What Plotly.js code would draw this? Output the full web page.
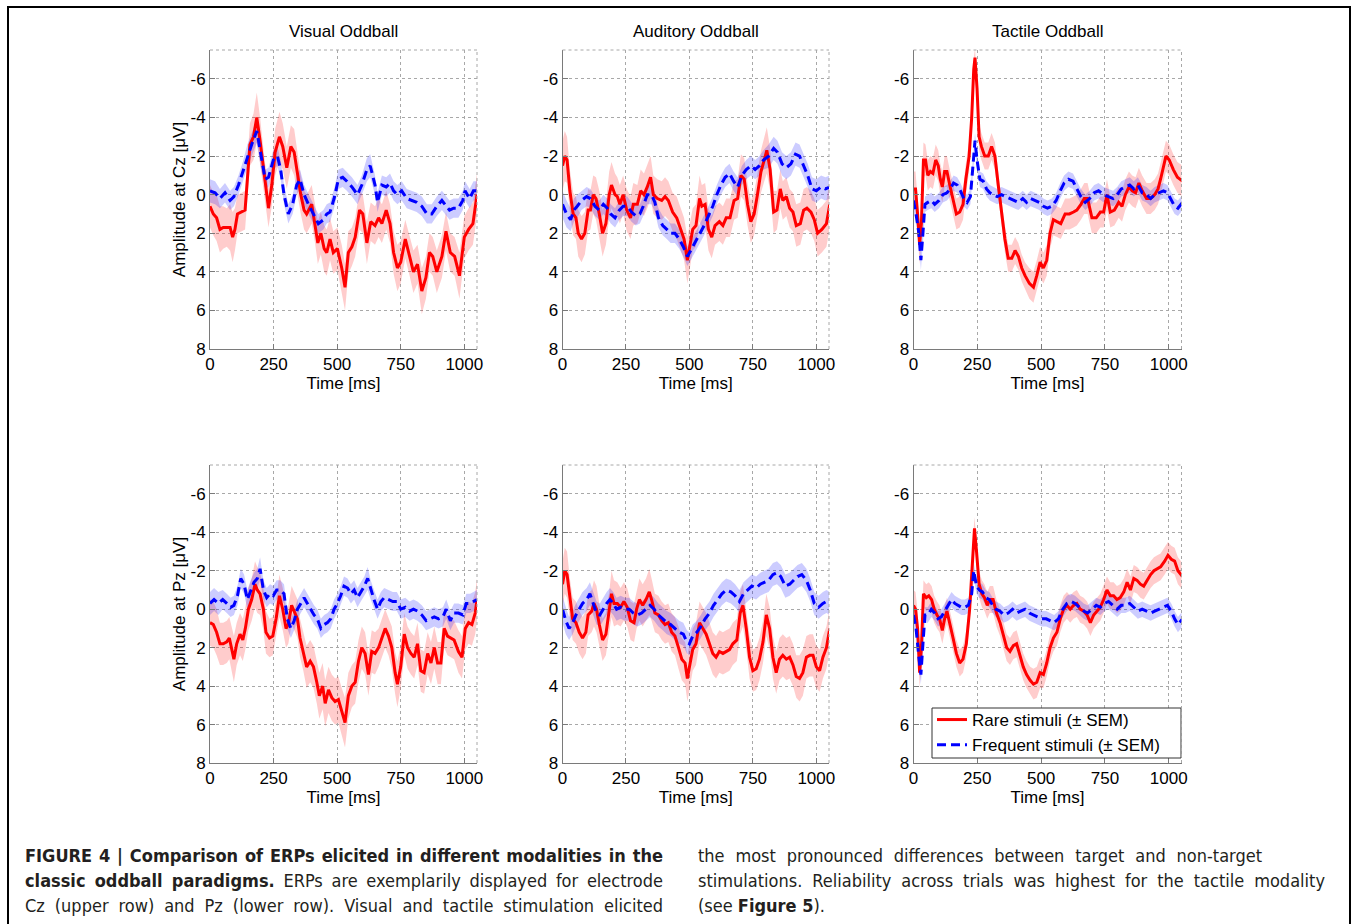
<!DOCTYPE html>
<html><head><meta charset="utf-8">
<script src="https://cdn.plot.ly/plotly-3.0.1.min.js"></script>
<style>
html,body{margin:0;padding:0;background:#fff;width:1355px;height:924px;overflow:hidden;}
#frame{position:absolute;left:7px;top:6px;width:1344px;height:1000px;border:2px solid #000;box-sizing:border-box;}
#chart{position:absolute;left:0;top:0;width:1355px;height:924px;}
.cap{position:absolute;top:843px;font-family:"Liberation Sans Narrow","DejaVu Sans Condensed","Liberation Sans",sans-serif;font-size:18px;line-height:25px;color:#231f20;}
.cap div{text-align:justify;text-align-last:justify;white-space:nowrap;}
.cap div.last{text-align-last:left;}
</style></head>
<body>
<div id="frame"></div>
<div id="chart"></div>
<div class="cap" style="left:25px;width:638px;">
<div><b>FIGURE 4 | Comparison of ERPs elicited in different modalities in the</b></div>
<div><b>classic oddball paradigms.</b> ERPs are exemplarily displayed for electrode</div>
<div>Cz (upper row) and Pz (lower row). Visual and tactile stimulation elicited</div>
</div>
<div class="cap" style="left:698px;width:627px;">
<div style="width:564px">the most pronounced differences between target and non-target</div>
<div>stimulations. Reliability across trials was highest for the tactile modality</div>
<div class="last">(see <b>Figure 5</b>).</div>
</div>
<script>
// ---------- titles / labels ----------
const panelTitles = ["Visual Oddball", "Auditory Oddball", "Tactile Oddball"];
const rowLabels = ["Amplitude at Cz [μV]", "Amplitude at Pz [μV]"];
const xTicks = [0, 250, 500, 750, 1000];
const yTicks = [-6, -4, -2, 0, 2, 4, 6, 8];
const yTickText = ["-6", "-4", "-2", "0", "2", "4", "6", "8"];
const seriesNames = ["Rare stimuli (± SEM)", "Frequent stimuli (± SEM)"];

// ---------- Visual, Cz ----------
const tVcR = [0,13,26,39,52,66,79,89,98,108,125,138,147,157,171,184,197,213,230,243,256,273,286,302,318,331,344,357,370,380,400,413,424,436,449,459,472,485,501,518,531,544,558,571,588,601,617,632,649,663,676,693,708,722,737,750,768,785,800,816,833,849,863,876,892,912,928,945,962,981,1000,1017,1034,1050];
const vVcR = [0.6,1.0,1.2,1.8,1.7,1.7,1.7,2.2,1.8,1.0,0.9,0.8,-0.8,-2.6,-3.0,-4.0,-2.8,-1.0,0.7,-0.5,-2.2,-3.0,-2.5,-1.4,-2.5,-2.2,-1.0,0.0,0.8,1.0,0.5,1.5,2.5,2.0,2.8,3.0,2.3,3.0,2.8,3.8,4.8,3.0,2.7,2.2,0.8,1.0,2.5,1.4,1.6,1.2,1.5,0.8,1.5,3.0,3.8,3.5,2.3,3.2,4.0,3.6,5.0,4.3,3.0,3.2,4.0,3.2,1.9,3.0,3.2,4.2,2.2,1.8,1.5,0.0];
const sVcR = [1.1,1.1,1.2,1.2,1.1,1.0,1.2,1.3,1.1,1.0,1.0,1.0,1.0,1.1,1.2,1.3,1.2,1.0,1.0,1.1,1.2,1.3,1.2,1.1,1.1,1.2,1.1,1.0,1.0,1.0,1.0,1.0,1.1,1.1,1.2,1.2,1.1,1.1,1.1,1.2,1.2,1.1,1.0,1.0,1.0,1.0,1.1,1.0,1.0,1.0,1.0,1.0,1.0,1.1,1.2,1.1,1.0,1.0,1.1,1.0,1.2,1.1,1.0,1.0,1.1,1.1,1.0,1.0,1.0,1.2,1.1,1.1,1.1,1.1];
const tVcF = [0,20,39,59,79,94,112,129,147,164,184,200,217,230,249,265,278,291,308,325,341,354,370,387,407,426,446,459,472,488,505,522,538,558,580,597,617,630,649,659,676,693,708,722,737,754,774,794,813,833,853,872,892,912,925,942,958,977,994,1003,1021,1036,1050];
const vVcF = [-0.2,-0.1,0.2,-0.1,0.3,0.1,-0.5,-1.2,-2.0,-2.6,-3.3,-2.0,-0.8,-0.9,-1.8,-2.0,-1.3,0.0,1.0,0.5,-0.5,-0.8,0.0,0.5,1.0,1.5,1.3,1.0,0.9,0.2,-0.8,-0.9,-0.7,-0.4,0.0,-0.5,-1.3,-1.5,-0.5,0.4,-0.5,-0.4,-0.6,-0.2,0.0,-0.2,0.2,0.3,0.4,0.6,1.0,1.0,0.6,0.3,0.5,0.8,0.7,0.7,0.3,-0.2,0.2,-0.2,-0.2];
const sVcF = [0.6,0.6,0.5,0.5,0.5,0.5,0.5,0.5,0.6,0.6,0.6,0.6,0.5,0.5,0.5,0.5,0.5,0.5,0.5,0.5,0.5,0.5,0.5,0.5,0.5,0.5,0.5,0.5,0.5,0.5,0.5,0.5,0.5,0.5,0.5,0.5,0.6,0.6,0.5,0.5,0.5,0.5,0.5,0.5,0.5,0.5,0.5,0.5,0.5,0.5,0.5,0.5,0.5,0.5,0.5,0.5,0.5,0.5,0.5,0.5,0.5,0.5,0.5];

// ---------- Auditory, Cz ----------
const tAcR = [0,9,18,29,42,53,62,75,88,101,110,121,132,145,158,171,184,193,207,216,226,239,253,268,279,295,308,321,334,347,358,374,391,404,417,434,450,466,479,492,503,513,526,540,549,562,575,588,601,618,632,645,660,676,690,703,716,729,742,755,768,782,795,805,818,832,845,858,868,882,895,908,921,937,950,963,979,992,1005,1022,1040,1053];
const vAcR = [-1.5,-2.0,-1.8,-0.2,1.0,1.2,2.0,2.3,2.0,0.8,0.8,0.0,0.2,1.0,2.0,1.5,0.0,-0.5,0.0,0.1,0.5,0.0,0.8,1.2,0.5,0.5,-0.2,0.0,-0.4,-0.9,0.0,0.2,0.3,0.1,0.3,0.9,1.2,1.8,2.3,3.4,2.5,1.8,1.6,0.2,0.6,0.5,1.8,2.2,1.6,1.4,1.6,1.2,1.2,0.3,0.2,-1.0,-0.8,0.5,1.4,1.0,0.0,-1.2,-1.8,-2.3,-1.3,0.9,0.8,-0.3,0.3,0.1,0.7,0.9,1.6,1.5,0.8,0.7,0.9,1.3,2.0,1.8,1.5,0.5];
const sAcR = [1.3,1.3,1.2,1.1,1.1,1.1,1.2,1.2,1.1,1.1,1.0,1.0,1.1,1.2,1.2,1.1,1.2,1.2,1.1,1.0,1.0,1.0,1.1,1.1,1.1,1.0,1.1,1.1,1.1,1.1,1.0,1.0,1.0,1.0,1.0,1.0,1.1,1.1,1.1,1.2,1.1,1.1,1.1,1.2,1.1,1.1,1.1,1.1,1.0,1.0,1.0,1.0,1.0,1.0,1.0,1.1,1.1,1.1,1.1,1.1,1.1,1.1,1.1,1.2,1.1,1.1,1.0,1.0,1.0,1.0,1.0,1.0,1.1,1.1,1.1,1.1,1.1,1.1,1.2,1.2,1.2,1.2];
const tAcF = [0,16,32,45,58,75,95,110,128,145,161,176,190,207,224,239,255,272,289,305,318,334,351,364,378,395,411,426,443,460,476,492,509,526,542,558,575,592,608,624,641,658,674,690,707,724,742,759,776,792,812,832,847,865,882,900,918,934,950,966,983,1000,1019,1036,1053];
const vAcF = [0.5,1.0,1.3,0.8,0.6,0.3,0.1,0.2,0.6,0.8,0.5,0.7,1.0,1.2,0.8,0.6,0.6,0.9,1.1,1.0,0.6,0.0,0.0,0.4,1.2,1.6,1.8,2.0,2.0,2.3,2.7,3.2,2.8,2.4,2.0,1.6,1.1,0.6,0.0,-0.5,-0.9,-1.1,-0.7,-0.4,-1.0,-1.3,-1.5,-1.3,-1.5,-1.8,-2.0,-2.4,-2.2,-1.6,-1.4,-1.6,-2.1,-2.0,-1.5,-1.0,-0.3,-0.2,-0.4,-0.3,-0.4];
const sAcF = [0.7,0.7,0.6,0.6,0.6,0.5,0.5,0.5,0.5,0.5,0.5,0.5,0.5,0.5,0.5,0.5,0.5,0.5,0.5,0.5,0.5,0.5,0.5,0.5,0.5,0.5,0.5,0.5,0.5,0.5,0.5,0.5,0.5,0.5,0.5,0.5,0.5,0.5,0.5,0.5,0.5,0.5,0.5,0.5,0.5,0.5,0.5,0.5,0.5,0.5,0.6,0.6,0.6,0.6,0.6,0.6,0.6,0.6,0.6,0.6,0.6,0.6,0.6,0.6,0.6];

// ---------- Tactile, Cz ----------
const tTcR = [0,8,16,24,31,39,47,56,66,76,87,97,105,113,122,131,142,155,168,181,194,205,218,228,236,241,249,257,266,279,293,306,319,332,345,358,371,385,398,411,424,437,454,470,483,496,509,522,535,548,562,577,594,611,627,640,656,669,682,699,716,732,745,758,771,787,804,817,830,844,857,870,883,896,913,929,945,958,968,979,989,1002,1018,1034,1054];
const vTcR = [-0.3,-0.3,1.0,2.6,1.5,-1.8,-1.8,-1.0,-1.2,-1.1,-1.8,-1.5,-0.8,-0.4,-1.2,-1.2,-0.5,0.3,1.0,0.9,0.5,-0.8,-2.0,-4.0,-6.5,-7.1,-5.5,-3.0,-2.5,-2.0,-2.0,-2.5,-2.0,-0.5,1.0,2.3,3.3,3.3,2.9,3.2,3.8,4.2,4.6,4.8,4.2,3.5,3.8,3.4,2.0,1.3,1.4,1.5,1.0,1.0,0.9,0.8,0.5,0.2,0.2,1.2,1.2,0.9,0.9,0.0,0.9,0.8,0.4,0.6,0.0,-0.4,-0.2,-0.1,-0.6,-0.2,0.2,0.2,0.0,-0.3,-0.8,-1.5,-2.0,-1.8,-1.3,-0.9,-0.7];
const sTcR = [0.9,0.9,1.0,1.0,1.0,0.9,0.8,0.8,0.8,0.8,0.8,0.8,0.8,0.8,0.8,0.8,0.8,0.8,0.8,0.8,0.8,0.8,0.8,0.7,0.6,0.5,0.6,0.7,0.7,0.7,0.7,0.7,0.7,0.7,0.7,0.7,0.7,0.7,0.7,0.7,0.7,0.7,0.8,0.8,0.8,0.8,0.8,0.8,0.8,0.8,0.8,0.8,0.8,0.8,0.8,0.8,0.8,0.8,0.8,0.8,0.8,0.8,0.8,0.8,0.8,0.8,0.8,0.8,0.8,0.8,0.8,0.8,0.8,0.8,0.8,0.8,0.8,0.8,0.8,0.8,0.8,0.8,0.8,0.8,0.8];
const tTcF = [0,10,21,29,37,45,56,70,83,100,115,131,144,157,171,184,197,210,223,234,241,249,260,273,286,299,312,328,345,362,378,394,411,428,443,459,476,493,509,525,542,559,575,590,607,625,640,656,673,690,708,725,745,764,782,798,814,830,847,863,879,896,913,929,945,962,979,995,1010,1023,1036,1054];
const vTcF = [0.3,1.0,2.0,3.4,2.0,0.5,0.4,0.3,0.5,0.3,0.0,-0.1,-0.3,-0.6,-0.5,-0.2,0.2,0.4,0.1,-1.5,-2.8,-1.8,-0.8,-0.7,-0.3,-0.1,0.0,0.1,0.0,0.1,0.2,0.3,0.4,0.2,0.4,0.2,0.3,0.4,0.6,0.7,0.6,0.3,-0.2,-0.6,-0.8,-0.7,-0.3,0.1,0.4,0.2,-0.1,-0.2,0.0,0.1,0.2,0.0,-0.3,-0.4,-0.5,-0.3,-0.5,-0.1,0.0,0.2,0.0,-0.1,-0.2,-0.1,0.3,0.6,0.7,0.4];
const sTcF = [0.5,0.5,0.5,0.5,0.5,0.4,0.4,0.4,0.4,0.4,0.4,0.4,0.4,0.4,0.4,0.4,0.4,0.4,0.4,0.4,0.4,0.4,0.4,0.4,0.4,0.4,0.4,0.4,0.4,0.4,0.4,0.4,0.4,0.4,0.4,0.4,0.4,0.4,0.4,0.4,0.4,0.4,0.4,0.4,0.4,0.4,0.4,0.4,0.4,0.4,0.4,0.4,0.4,0.4,0.4,0.4,0.4,0.4,0.4,0.4,0.4,0.4,0.4,0.4,0.4,0.4,0.4,0.4,0.4,0.4,0.4,0.4];

// ---------- Visual, Pz ----------
const tVpR = [0,13,26,39,52,66,76,85,94,105,118,129,139,151,164,177,186,197,210,220,234,247,260,273,286,299,308,321,335,344,354,367,380,394,407,420,430,443,453,466,479,492,505,518,531,544,558,571,584,597,610,623,636,649,663,676,689,702,715,728,737,750,764,777,790,803,816,829,842,856,869,882,895,908,921,934,947,960,977,991,1004,1017,1030,1043,1050];
const vVpR = [0.7,0.8,1.2,1.8,1.8,1.7,1.5,2.0,2.6,1.8,1.3,1.6,1.0,0.0,-0.5,-1.3,-1.0,-0.8,0.0,1.2,1.5,1.4,0.5,-0.7,0.0,1.0,0.8,-0.2,0.2,0.5,1.5,2.2,3.0,2.7,3.0,3.8,4.5,4.0,4.9,4.2,4.6,4.8,4.7,5.3,5.9,4.5,4.0,3.8,2.7,2.0,2.3,3.4,2.2,2.3,2.0,1.5,1.0,1.4,2.0,3.3,3.9,3.0,1.3,2.0,2.3,2.5,1.8,3.2,3.3,2.3,2.8,2.0,2.8,2.8,1.0,1.4,1.5,1.6,2.2,2.5,1.0,0.7,0.8,0.2,-0.5];
const sVpR = [1.2,1.2,1.2,1.1,1.1,1.1,1.1,1.2,1.2,1.1,1.1,1.1,1.1,1.1,1.1,1.2,1.2,1.1,1.1,1.1,1.0,1.0,1.0,1.1,1.1,1.0,1.0,1.0,1.0,1.0,1.0,1.0,1.1,1.1,1.1,1.1,1.2,1.2,1.2,1.2,1.2,1.2,1.2,1.2,1.3,1.2,1.1,1.1,1.1,1.1,1.1,1.1,1.1,1.1,1.0,1.0,1.0,1.0,1.1,1.1,1.2,1.1,1.1,1.1,1.1,1.1,1.1,1.1,1.1,1.1,1.1,1.1,1.1,1.1,1.0,1.0,1.0,1.0,1.1,1.1,1.1,1.1,1.1,1.1,1.1];
const tVpF = [0,16,33,50,66,81,94,108,121,134,147,160,173,186,197,210,223,236,249,262,276,291,304,318,331,344,357,370,383,396,409,422,436,449,462,475,488,501,514,527,541,554,567,580,593,607,620,632,645,659,672,685,702,719,735,750,768,785,800,816,833,850,866,882,899,916,929,945,960,977,994,1008,1023,1039,1050];
const vVpF = [-0.3,-0.5,-0.3,-0.5,-0.3,-0.1,-0.2,-0.7,-1.6,-1.3,-0.5,-1.0,-1.4,-1.6,-2.1,-1.0,-0.6,-0.8,-0.7,-1.0,-1.0,-0.8,0.5,1.0,0.6,0.0,-0.3,-0.6,-0.3,0.0,0.3,0.5,1.0,0.8,0.7,0.5,0.0,-0.3,-0.7,-1.2,-1.1,-0.8,-1.0,-0.6,-0.9,-1.2,-1.6,-1.0,-0.5,0.0,-0.4,-0.6,-0.5,-0.4,-0.4,0.0,-0.1,0.1,0.0,0.1,0.3,0.6,0.5,0.4,0.5,0.4,0.0,0.6,0.2,0.2,0.3,-0.3,-0.3,-0.4,-0.5];
const sVpF = [0.6,0.6,0.6,0.5,0.5,0.5,0.5,0.5,0.5,0.5,0.5,0.5,0.5,0.5,0.6,0.5,0.5,0.5,0.5,0.5,0.5,0.5,0.5,0.5,0.5,0.5,0.5,0.5,0.5,0.5,0.5,0.5,0.5,0.5,0.5,0.5,0.5,0.5,0.5,0.5,0.5,0.5,0.5,0.5,0.5,0.5,0.6,0.5,0.5,0.5,0.5,0.5,0.5,0.5,0.5,0.5,0.5,0.5,0.5,0.5,0.5,0.5,0.5,0.5,0.5,0.5,0.5,0.5,0.5,0.5,0.5,0.5,0.5,0.5,0.5];

// ---------- Auditory, Pz ----------
const tApR = [0,9,18,29,40,53,66,79,92,101,115,124,134,145,158,171,184,193,203,216,229,242,255,268,282,292,303,316,329,342,351,364,378,391,404,417,430,443,457,470,483,492,503,513,526,540,553,566,579,592,605,618,632,645,658,671,687,700,711,724,737,750,763,776,790,803,816,829,842,855,868,882,895,908,921,934,947,961,974,987,1000,1013,1026,1040,1053];
const vApR = [-1.3,-2.0,-1.8,-0.5,0.5,0.7,1.2,1.5,1.2,0.3,0.1,-0.3,0.0,0.8,1.6,1.3,0.2,-0.8,-0.3,-0.3,-0.1,-0.4,-0.1,0.6,0.7,0.0,-0.5,-0.2,-0.5,-0.9,-0.5,0.2,0.3,0.6,0.8,0.7,1.2,1.4,2.0,2.6,2.8,3.6,2.8,2.1,1.8,0.7,1.0,1.3,1.8,2.3,2.5,2.2,2.3,2.2,2.1,1.8,1.6,0.2,-0.2,1.0,2.5,3.2,3.1,2.6,1.7,0.3,1.0,2.5,3.3,2.6,2.4,2.6,2.5,2.9,3.5,3.6,3.3,2.5,2.4,2.4,3.0,3.2,2.5,2.0,1.0];
const sApR = [1.2,1.2,1.2,1.1,1.1,1.1,1.1,1.1,1.1,1.1,1.1,1.2,1.2,1.1,1.1,1.1,1.1,1.2,1.2,1.1,1.0,1.0,1.0,1.0,1.0,1.0,1.1,1.1,1.1,1.2,1.1,1.0,1.0,1.0,1.0,1.0,1.0,1.0,1.1,1.1,1.1,1.2,1.2,1.1,1.1,1.1,1.1,1.1,1.1,1.1,1.1,1.1,1.1,1.1,1.1,1.1,1.1,1.1,1.1,1.1,1.1,1.1,1.1,1.1,1.1,1.1,1.1,1.1,1.1,1.1,1.1,1.1,1.1,1.1,1.1,1.2,1.2,1.1,1.1,1.1,1.1,1.1,1.1,1.1,1.1];
const tApF = [0,13,26,40,53,66,79,95,108,121,134,147,161,174,187,200,213,229,246,263,279,295,312,329,345,361,378,395,411,426,443,460,476,490,500,513,529,545,562,579,595,610,628,645,663,680,697,713,729,746,763,779,795,812,829,845,860,878,895,911,926,943,961,976,992,1009,1026,1040,1053];
const vApF = [0.0,0.6,1.0,0.7,0.3,0.0,-0.3,-0.5,-0.8,-0.3,0.2,0.3,0.0,-0.3,-0.5,-0.3,0.0,-0.1,0.0,0.0,0.2,0.3,0.2,0.0,-0.2,0.0,0.3,0.5,0.7,0.8,1.0,1.2,1.3,1.7,1.8,1.4,1.2,0.9,0.5,0.2,-0.2,-0.5,-0.8,-1.0,-0.9,-0.7,-0.4,-0.8,-1.0,-1.2,-1.1,-1.3,-1.4,-1.5,-1.8,-1.9,-1.7,-1.2,-1.3,-1.5,-1.7,-1.8,-1.5,-1.0,-0.3,-0.1,-0.3,-0.4,-0.3];
const sApF = [0.7,0.7,0.6,0.6,0.6,0.6,0.6,0.6,0.6,0.6,0.6,0.6,0.6,0.6,0.6,0.6,0.6,0.6,0.6,0.6,0.6,0.6,0.6,0.6,0.6,0.6,0.6,0.6,0.6,0.6,0.6,0.6,0.6,0.6,0.6,0.6,0.6,0.6,0.6,0.6,0.6,0.6,0.6,0.6,0.6,0.6,0.6,0.6,0.6,0.6,0.6,0.6,0.6,0.6,0.6,0.6,0.6,0.6,0.6,0.6,0.6,0.6,0.6,0.6,0.6,0.6,0.6,0.6,0.6];

// ---------- Tactile, Pz ----------
const tTpR = [0,8,16,24,31,39,50,60,71,81,92,102,113,122,131,142,155,168,181,194,207,220,231,239,247,257,268,278,289,299,312,325,339,352,365,378,391,404,417,430,443,457,470,483,496,509,522,535,548,562,575,588,601,614,627,640,653,667,680,693,706,719,732,745,758,771,784,797,810,824,837,850,863,876,889,902,915,929,942,955,968,984,997,1010,1023,1036,1054];
const vTpR = [-0.2,0.0,1.0,3.3,2.0,-0.8,-0.6,-0.7,-0.5,0.0,0.3,0.5,1.1,0.5,0.1,0.7,1.5,2.3,2.8,2.6,1.8,0.0,-2.5,-4.2,-3.0,-1.3,-0.8,-0.6,-0.2,-0.5,-0.5,0.2,0.7,1.3,2.0,2.2,1.9,1.8,2.4,3.0,3.4,3.7,3.9,3.8,3.3,3.4,2.8,2.0,1.5,1.2,0.5,0.0,-0.2,0.0,-0.2,-0.3,0.0,0.1,0.3,0.7,0.3,0.1,-0.1,-0.5,-1.0,-0.7,-0.7,-0.5,-0.6,-0.9,-1.4,-1.0,-1.6,-1.5,-1.3,-1.2,-1.5,-1.8,-2.0,-2.1,-2.2,-2.5,-2.8,-2.6,-2.5,-2.0,-1.7];
const sTpR = [0.8,0.9,0.9,0.8,0.8,0.7,0.7,0.7,0.7,0.7,0.7,0.7,0.7,0.7,0.7,0.7,0.7,0.7,0.7,0.7,0.7,0.7,0.7,0.6,0.7,0.7,0.7,0.7,0.7,0.7,0.7,0.7,0.7,0.7,0.7,0.7,0.7,0.7,0.7,0.7,0.7,0.7,0.8,0.8,0.8,0.7,0.7,0.7,0.7,0.7,0.7,0.7,0.7,0.7,0.7,0.7,0.7,0.7,0.7,0.7,0.7,0.7,0.7,0.7,0.7,0.7,0.7,0.7,0.7,0.7,0.7,0.7,0.7,0.7,0.7,0.7,0.7,0.7,0.7,0.7,0.7,0.7,0.7,0.7,0.7,0.7,0.7];
const tTpF = [0,10,21,29,37,45,56,70,83,96,109,122,136,149,162,175,188,201,215,228,236,247,257,270,283,297,310,323,339,354,371,388,404,420,437,454,470,485,503,520,535,551,568,585,601,617,633,651,667,682,699,716,732,748,764,782,798,814,830,847,863,879,896,913,929,945,962,979,995,1010,1023,1036,1054];
const vTpF = [0.3,1.0,2.5,3.4,1.8,0.3,0.3,0.0,0.2,0.5,0.4,0.1,-0.2,-0.5,-0.3,-0.2,-0.1,-0.1,-0.2,-0.8,-2.0,-1.2,-1.0,-0.9,-0.6,-0.5,-0.2,0.0,0.1,0.3,0.2,0.0,0.2,0.1,0.0,0.2,0.3,0.4,0.5,0.5,0.6,0.7,0.5,0.0,-0.3,-0.4,-0.3,-0.1,0.1,0.2,0.0,-0.2,-0.1,-0.3,-0.4,-0.2,0.0,-0.2,-0.2,-0.3,-0.1,0.1,0.0,0.1,0.2,0.1,0.0,-0.1,-0.2,0.1,0.5,0.8,0.5];
const sTpF = [0.5,0.5,0.5,0.5,0.5,0.4,0.4,0.4,0.4,0.4,0.4,0.4,0.4,0.4,0.4,0.4,0.4,0.4,0.4,0.4,0.4,0.4,0.4,0.4,0.4,0.4,0.4,0.4,0.4,0.4,0.4,0.4,0.4,0.4,0.4,0.4,0.4,0.4,0.4,0.4,0.4,0.4,0.4,0.4,0.4,0.4,0.4,0.4,0.4,0.4,0.4,0.4,0.4,0.4,0.4,0.4,0.4,0.4,0.4,0.4,0.4,0.4,0.4,0.4,0.4,0.4,0.4,0.4,0.4,0.4,0.4,0.4,0.4];

// ---------- build ----------
const panels = [
  {rare:[tVcR,vVcR,sVcR], freq:[tVcF,vVcF,sVcF]},
  {rare:[tAcR,vAcR,sAcR], freq:[tAcF,vAcF,sAcF]},
  {rare:[tTcR,vTcR,sTcR], freq:[tTcF,vTcF,sTcF]},
  {rare:[tVpR,vVpR,sVpR], freq:[tVpF,vVpF,sVpF]},
  {rare:[tApR,vApR,sApR], freq:[tApF,vApF,sApF]},
  {rare:[tTpR,vTpR,sTpR], freq:[tTpF,vTpF,sTpF]}
];

const W = 1355, H = 924;
const xDom = [[210/W, 477/W], [562.5/W, 829/W], [913.5/W, 1181.5/W]];
const yDom = [[1-349/H, 1-50/H], [1-763/H, 1-465/H]];
const FONT = '"Liberation Sans", Arial, Helvetica, sans-serif';
const RED = '#ff0000', BLUE = '#0000ff';

function band(s, fill, xa, ya) {
  const [t, v, e] = s;
  const n = Math.min(t.length, v.length, e.length);
  const tt = t.slice(0, n), up = [], lo = [];
  for (let i = 0; i < n; i++) { up.push(v[i] + e[i]); lo.push(v[i] - e[i]); }
  return {x: tt.concat(tt.slice().reverse()), y: up.concat(lo.reverse()),
          type:'scatter', mode:'lines', fill:'toself', fillcolor: fill,
          line:{width:0, color:'rgba(0,0,0,0)'}, hoverinfo:'skip', showlegend:false, xaxis:xa, yaxis:ya};
}
function line(s, color, dash, name, show, xa, ya) {
  const [t, v] = s;
  const n = Math.min(t.length, v.length);
  return {x: t.slice(0,n), y: v.slice(0,n), type:'scatter', mode:'lines', name: name,
          line:{color: color, width: 3, dash: dash}, showlegend: show, xaxis:xa, yaxis:ya};
}

const data = [];
const layout = {
  width: W, height: H, margin:{l:0,r:0,t:0,b:0},
  paper_bgcolor:'rgba(0,0,0,0)', plot_bgcolor:'rgba(0,0,0,0)',
  font:{family: FONT, size: 17, color:'#000'},
  showlegend: true,
  legend:{x: 932/W, y: 1-702/H, xanchor:'left', yanchor:'top', bgcolor:'rgba(0,0,0,0)',
          borderwidth:0, font:{size:17, color:'#000', family:FONT},
          tracegroupgap:0, itemwidth:30},
  annotations: [],
  shapes: [
    // legend box
    {type:'rect', xref:'paper', yref:'paper', x0:932/W, x1:1181/W, y0:1-758/H, y1:1-708/H,
     fillcolor:'#ffffff', line:{color:'#333', width:1}, layer:'above'}
  ]
};

panels.forEach((p, k) => {
  const col = k % 3, row = Math.floor(k / 3);
  const idx = k === 0 ? '' : String(k + 1);
  const xa = 'x' + idx, ya = 'y' + idx;
  data.push(band(p.rare, 'rgba(255,0,0,0.2)', xa, ya));
  data.push(band(p.freq, 'rgba(0,0,255,0.2)', xa, ya));
  data.push(line(p.rare, RED, 'solid', seriesNames[0], k === 0, xa, ya));
  data.push(line(p.freq, BLUE, '9px,5px', seriesNames[1], k === 0, xa, ya));

  const common = {showgrid:true, gridcolor:'#a8a8a8', griddash:'dot', gridwidth:1,
    zeroline:false, showline:true, linecolor:'#7a7a7a', linewidth:1,
    ticks:'inside', ticklen:5, tickcolor:'#7a7a7a',
    tickfont:{size:17, color:'#000', family:FONT}, fixedrange:true};
  layout['xaxis' + idx] = Object.assign({}, common, {
    domain: xDom[col], range:[0, 1050], tickmode:'array', tickvals: xTicks,
    anchor: ya, title:{text:'Time [ms]', font:{size:17, color:'#000'}, standoff:2}
  });
  layout['yaxis' + idx] = Object.assign({}, common, {
    domain: yDom[row], range:[8, -7.5], tickmode:'array', tickvals: yTicks, ticktext: yTickText,
    anchor: xa,
    title: col === 0 ? {text: rowLabels[row], font:{size:17, color:'#000'}, standoff:0} : {text:''}
  });
  // dotted top and right edges
  layout.shapes.push({type:'line', xref: xa + ' domain', yref: ya + ' domain', x0:0, x1:1, y0:1, y1:1,
                      line:{color:'#a8a8a8', width:1, dash:'dot'}});
  layout.shapes.push({type:'line', xref: xa + ' domain', yref: ya + ' domain', x0:1, x1:1, y0:0, y1:1,
                      line:{color:'#a8a8a8', width:1, dash:'dot'}});
  if (row === 0) {
    layout.annotations.push({text: panelTitles[col], xref:'paper', yref:'paper',
      x: (xDom[col][0] + xDom[col][1]) / 2, y: 1 - 31/H, xanchor:'center', yanchor:'middle',
      showarrow:false, font:{size:17, color:'#000', family:FONT}});
  }
});

Plotly.newPlot('chart', data, layout, {displayModeBar:false, staticPlot:true});
</script>
</body></html>
